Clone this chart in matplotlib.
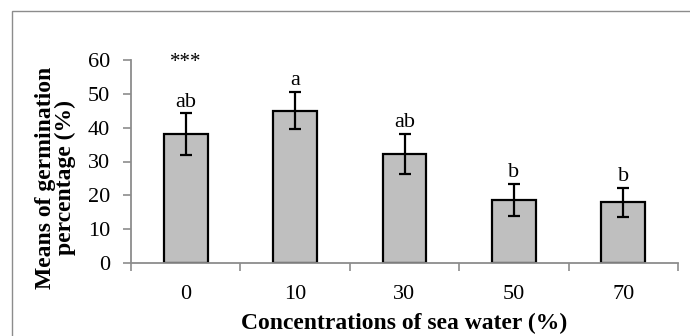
import matplotlib
matplotlib.use("Agg")
import matplotlib.pyplot as plt
from matplotlib.patches import Rectangle
import numpy as np

categories = ["0", "10", "30", "50", "70"]
means = [38.0, 45.0, 32.3, 18.7, 17.9]
errors = [6.2, 5.5, 5.9, 4.7, 4.2]
letters = ["ab", "a", "ab", "b", "b"]

plt.rcParams["font.family"] = ["Liberation Serif", "DejaVu Serif"]

fig = plt.figure(figsize=(6.9, 3.36), dpi=100)
ax = fig.add_axes([131 / 690, 1 - 263 / 336, 547 / 690, (263 - 60) / 336])

# outer frame like the spreadsheet chart area
fig.patches.append(Rectangle((12 / 690, -0.05), 1.0, 1 - 11 / 336 + 0.05,
                             transform=fig.transFigure, fill=False,
                             edgecolor="#8c8c8c", linewidth=1.0))

x = np.arange(len(categories))
ax.bar(x, means, width=0.4, color="#bfbfbf", edgecolor="black", linewidth=1.6, zorder=2)
ax.errorbar(x, means, yerr=errors, fmt="none", ecolor="black", elinewidth=1.6,
            capsize=4.5, capthick=1.6, zorder=3)

for xi, m, e, lab in zip(x, means, errors, letters):
    ax.annotate(lab, (xi, m + e), xytext=(0, 5), textcoords="offset points",
                ha="center", va="baseline", fontsize=16)
ax.annotate("***", (0, 60), xytext=(0, -2), textcoords="offset points",
            ha="center", va="center", fontsize=15, annotation_clip=False)

ax.set_xlim(-0.5, len(categories) - 0.5)
ax.set_ylim(0, 60)
ax.set_yticks(range(0, 61, 10))
ax.set_xticks(x)
ax.set_xticklabels(categories)
ax.set_xticks(np.arange(-0.5, len(categories), 1.0), minor=True)
ax.tick_params(axis="x", which="major", length=0, labelsize=16, pad=16)
ax.tick_params(axis="x", which="minor", length=6, color="#8c8c8c", width=1.2)
ax.tick_params(axis="y", length=6, color="#8c8c8c", width=1.2, labelsize=16, pad=9)

for s in ["top", "right"]:
    ax.spines[s].set_visible(False)
for s in ["left", "bottom"]:
    ax.spines[s].set_color("#8c8c8c")
    ax.spines[s].set_linewidth(1.3)

ax.set_xlabel("Concentrations of sea water (%)", fontsize=17, fontweight="bold", labelpad=6)
ax.set_ylabel("Means of germination\npercentage (%)", fontsize=17, fontweight="bold",
              linespacing=0.95)
ax.yaxis.set_label_coords(-0.10, 0.42)

fig.savefig("out.png", dpi=100)
